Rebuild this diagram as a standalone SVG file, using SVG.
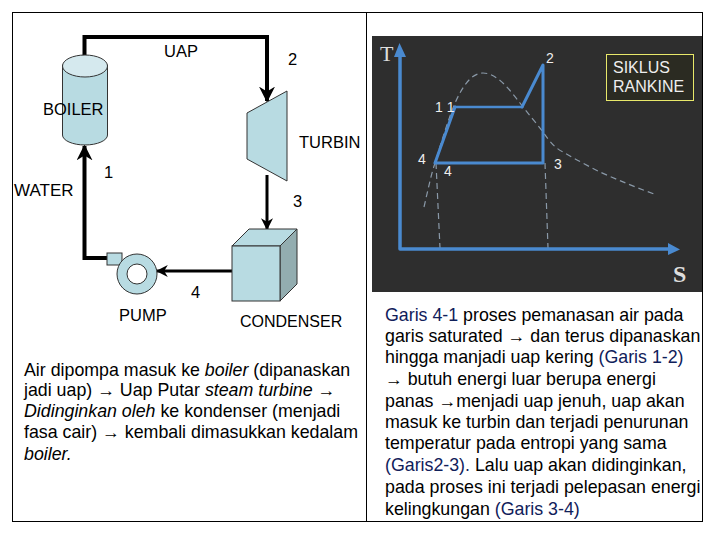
<svg xmlns="http://www.w3.org/2000/svg" width="720" height="540" viewBox="0 0 720 540">
<style>
text{font-family:"Liberation Sans",Arial,sans-serif;fill:#000}
.l{font-size:17.800px}
.b{font-size:16.500px;fill:#000}
.n{fill:#10205a}
.d{font-size:14px;fill:#eee}
.eq{fill:#b8dbe2;stroke:#333;stroke-width:1}
.curve{fill:none;stroke:#8a99a8;stroke-width:1.200;stroke-dasharray:6 4}
.bl{fill:none;stroke:#4a8ad0;stroke-linecap:round;stroke-linejoin:round}
.k{fill:none;stroke:#000}
</style>
<defs>
<marker id="a" viewBox="0 0 10 10" refX="9" refY="5" markerWidth="4" markerHeight="4" orient="auto-start-reverse"><path d="M0 0L10 5L0 10L3 5Z" fill="#000"/></marker>
<marker id="a2" viewBox="0 0 10 10" refX="9" refY="5" markerWidth="4" markerHeight="4" orient="auto"><path d="M0 0L10 5L0 10L3 5Z" fill="#000"/></marker>
</defs>
<rect width="720" height="540" fill="#fff"/>
<g id="frame" fill="none" stroke="#000" stroke-width="1">
<rect x="12.500" y="12.500" width="690" height="509"/>
<path d="M366.500 12.500V522"/>
</g>
<g id="chart">
<rect x="372" y="36" width="330" height="256" fill="#2e2e2e"/>
<path class="curve" d="M424 207C428 190 431 175 435 163C442 140 448 120 455 103C463 85 472 73 483 73C497 73 510 90 520 103C530 116 537 124 543 132C550 142 555 148 563 152C575 159 588 166 600 172C620 181 640 189 657 195"/>
<path class="curve" d="M436 163L440 248M545 163L548 248"/>
<path class="bl" stroke-width="3.500" d="M400 249V52M400 249H672"/>
<path d="M394 57L399.500 43L406 57Z M668 243L680 249.500L668 255Z" fill="#4a8ad0"/>
<path class="bl" stroke-width="2.500" d="M455 107H522"/>
<path class="bl" stroke-width="3" d="M435 163L455 107M522 107L543 65V163H435"/>
<text x="380" y="61" font-size="22" style="font-family:'Liberation Serif',serif;fill:#ddd">T</text>
<text x="673" y="282" font-size="24" font-weight="bold" style="font-family:'Liberation Serif',serif;fill:#ddd">S</text>
<text class="d" x="546" y="63">2</text>
<text class="d" x="435" y="112">1 1</text>
<text class="d" x="418" y="164">4</text>
<text class="d" x="444" y="176">4</text>
<text class="d" x="554" y="169">3</text>
<rect x="606.500" y="54.500" width="87" height="46" fill="#2b2b22" stroke="#e8e86a"/>
<text x="613" y="73" font-size="16" style="fill:#eee">SIKLUS</text>
<text x="613" y="92" font-size="16" style="fill:#eee">RANKINE</text>
</g>
<g id="connectors">
<path class="k" d="M84.500 56V37H267V101" stroke-width="4" marker-end="url(#a)"/>
<path class="k" d="M84.500 146V258H108" stroke-width="4" marker-start="url(#a)"/>
<path class="k" d="M267 175V229" stroke-width="3" marker-end="url(#a2)"/>
<path class="k" d="M232 271H157" stroke-width="3" marker-end="url(#a2)"/>
</g>
<g id="boiler">
<path class="eq" d="M62.500 65V135A22.500 10 0 0 0 107.500 135V65Z"/>
<ellipse class="eq" cx="85" cy="66" rx="22.500" ry="11" style="fill:#d5e9ee"/>
<text class="b" x="43" y="115">BOILER</text>
</g>
<g id="turbine">
<path class="eq" d="M247 113L287 91V181L247 159Z"/>
<text class="b" x="299" y="148">TURBIN</text>
</g>
<g id="condenser">
<path d="M232 246L249 229H297L280 246Z" fill="#b8dbe2" stroke="#333"/>
<path d="M280 246L297 229V284L280 301Z" fill="#93adb0" stroke="#333"/>
<rect class="eq" x="232" y="246" width="48" height="55"/>
<text class="b" x="240" y="327" style="font-size:16px">CONDENSER</text>
</g>
<g id="pump">
<rect class="eq" x="107" y="253" width="15" height="12"/>
<circle class="eq" cx="137" cy="274" r="20"/>
<circle cx="137" cy="274" r="10" fill="#fff" stroke="#333"/>
<text class="b" x="119" y="321">PUMP</text>
</g>
<g id="labels">
<text x="164" y="57" class="b">UAP</text>
<text x="288" y="65" class="b">2</text>
<text x="104" y="178" class="b">1</text>
<text x="14" y="196" class="b" style="font-size:17px">WATER</text>
<text x="293" y="207" class="b">3</text>
<text x="191" y="298" class="b">4</text>
</g>
<g id="left-text">
<text class="l" x="24" y="376">Air dipompa masuk ke <tspan font-style="italic">boiler</tspan> (dipanaskan</text>
<text class="l" x="24" y="396">jadi uap) → Uap Putar <tspan font-style="italic">steam turbine</tspan> →</text>
<text class="l" x="24" y="417"><tspan font-style="italic">Didinginkan oleh</tspan> ke kondenser (menjadi</text>
<text class="l" x="24" y="438">fasa cair) → kembali dimasukkan kedalam</text>
<text class="l" x="24" y="460" font-style="italic">boiler.</text>
</g>
<g id="right-text">
<text class="l" x="385" y="321"><tspan class="n">Garis 4-1</tspan> proses pemanasan air pada</text>
<text class="l" x="385" y="342">garis saturated → dan terus dipanaskan</text>
<text class="l" x="385" y="363">hingga manjadi uap kering <tspan class="n">(Garis 1-2)</tspan></text>
<text class="l" x="385" y="385">→ butuh energi luar berupa energi</text>
<text class="l" x="385" y="407">panas →menjadi uap jenuh, uap akan</text>
<text class="l" x="385" y="428">masuk ke turbin dan terjadi penurunan</text>
<text class="l" x="385" y="449">temperatur pada entropi yang sama</text>
<text class="l" x="385" y="471"><tspan class="n">(Garis2-3).</tspan> Lalu uap akan didinginkan,</text>
<text class="l" x="385" y="493">pada proses ini terjadi pelepasan energi</text>
<text class="l" x="385" y="515">kelingkungan <tspan class="n">(Garis 3-4)</tspan></text>
</g>
</svg>
